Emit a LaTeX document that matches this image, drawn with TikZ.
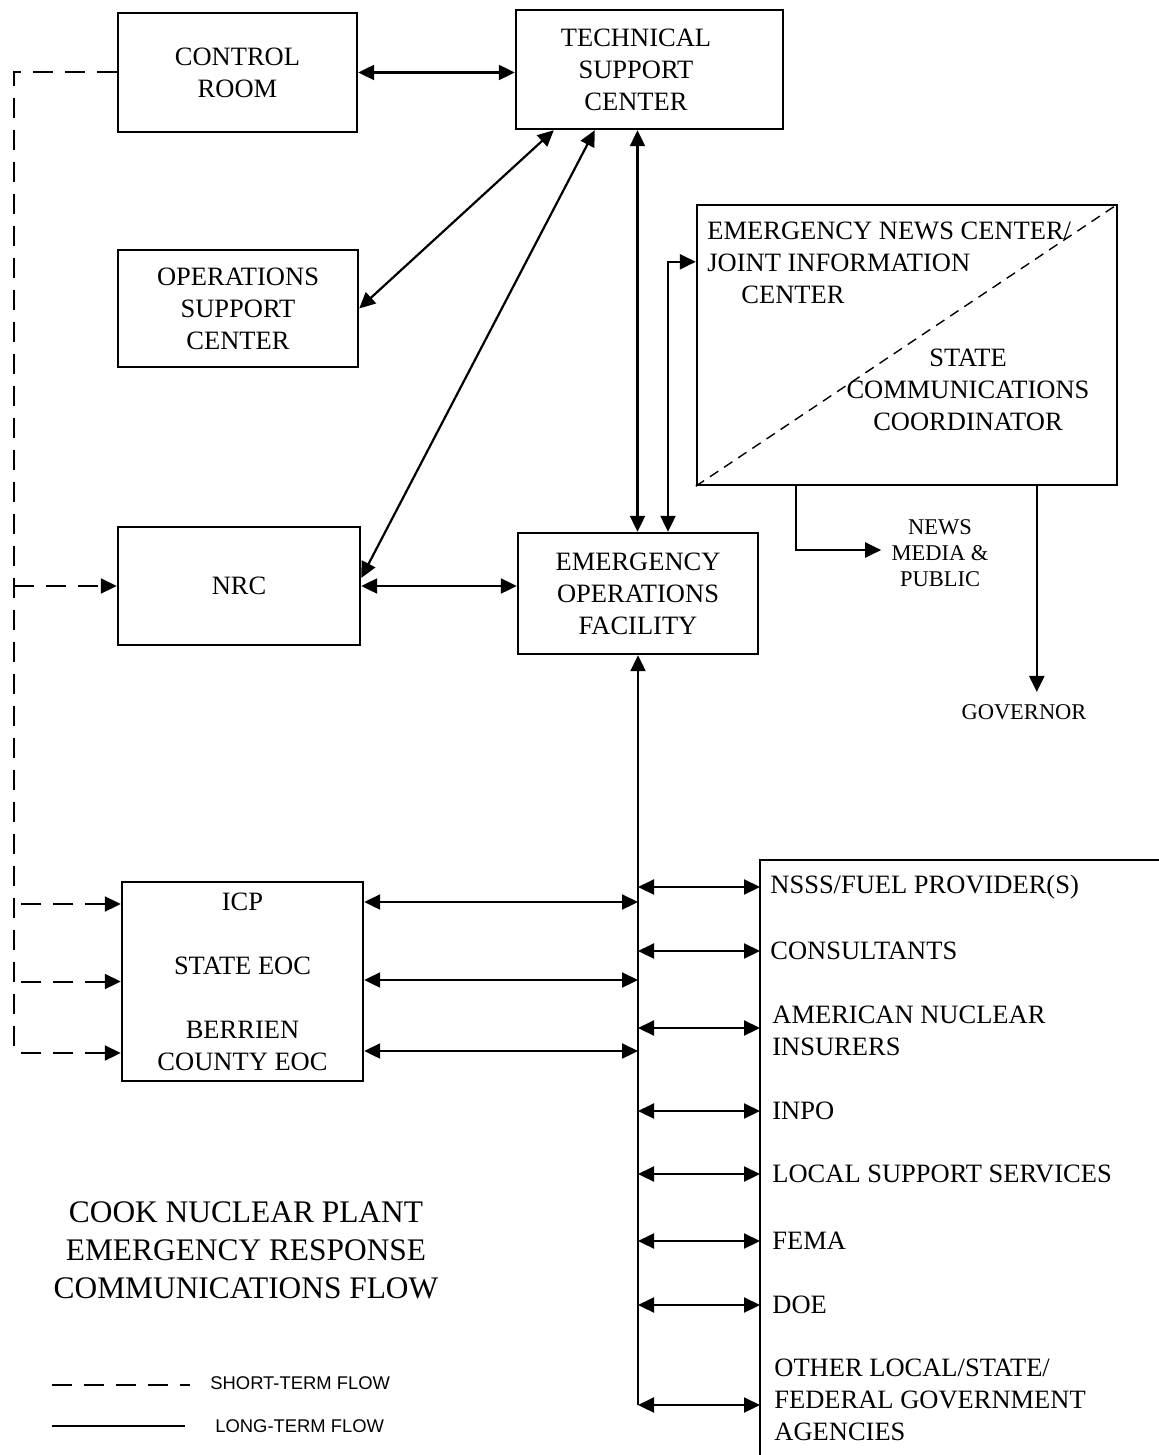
\documentclass[tikz,border=0pt]{standalone}
\usepackage{fontspec}
\setmainfont{Liberation Serif}
\setsansfont{Liberation Sans}
\usetikzlibrary{arrows.meta,positioning,calc}

\begin{document}
\begin{tikzpicture}[
  x=0.5pt, y=-0.5pt,
  >={Triangle[length=8pt,width=7.5pt]},
  font=\fontsize{13.25}{16}\selectfont,
  box/.style={draw, line width=1.2pt, align=center, inner sep=2pt},
  flow/.style={<->, line width=1.1pt},
  short/.style={line width=1pt, dash pattern=on 10pt off 6pt},
  item/.style={anchor=west, align=left, inner sep=2pt},
  small/.style={font=\fontsize{11.25}{13}\selectfont, align=center, inner sep=2pt},
  legend/.style={anchor=west, inner sep=2pt, font=\sffamily\fontsize{9.2}{11}\selectfont}
]
\useasboundingbox (0,0) rectangle (1158,1455);

\node[box, minimum width=119.5pt, minimum height=59.5pt] (cr) at (237.5,72.5) {CONTROL\\ROOM};
\node[box, minimum width=133.5pt, minimum height=59.5pt] (tsc) at (649.5,69.5) {};
\node[align=center, inner sep=2pt] (tsclbl) at (636,69.5) {TECHNICAL\\SUPPORT\\CENTER};
\node[box, minimum width=120pt, minimum height=58.5pt] (osc) at (238,308.5) {OPERATIONS\\SUPPORT\\CENTER};
\node[box, minimum width=121pt, minimum height=59pt] (nrc) at (239,586) {NRC};
\node[box, minimum width=120pt, minimum height=60.5pt] (eof) at (638,593.5) {EMERGENCY\\OPERATIONS\\FACILITY};
\node[box, minimum width=210pt, minimum height=140pt] (enc) at (907,345) {};
\node[box, minimum width=120.5pt, minimum height=99.5pt] (icp) at (242.5,981.5) {ICP\\[16pt]STATE EOC\\[16pt]BERRIEN\\COUNTY EOC};

\draw[line width=0.7pt, dash pattern=on 5pt off 3.5pt] (enc.south west) -- (enc.north east);
\node[anchor=west, align=left, inner sep=2pt] (jic) at (703,263) {EMERGENCY NEWS CENTER/\\JOINT INFORMATION\\\hspace*{17pt}CENTER};
\node[align=center, inner sep=2pt] (scc) at (968,390) {STATE\\COMMUNICATIONS\\COORDINATOR};

\node[small] (news) at (940,553) {NEWS\\MEDIA \&\\PUBLIC};
\node[small] (gov) at (1024,712) {GOVERNOR};

\node[align=center, font=\fontsize{15.7}{19}\selectfont] (title) at (246,1250) {COOK NUCLEAR PLANT\\EMERGENCY RESPONSE\\COMMUNICATIONS FLOW};

\coordinate (bus) at (638,1405);
\coordinate (lb) at (760,860);
\coordinate (dlow) at (14,1053);

\node[item] (nsss) at (766,887) {NSSS/FUEL PROVIDER(S)};
\node[item] (cons) at (766,951) {CONSULTANTS};
\node[item] (ani) at (768,1031) {AMERICAN NUCLEAR\\INSURERS};
\node[item] (inpo) at (768,1111) {INPO};
\node[item] (lss) at (768,1174) {LOCAL SUPPORT SERVICES};
\node[item] (fema) at (768,1241) {FEMA};
\node[item] (doe) at (768,1305) {DOE};
\node[item] (other) at (770,1400) {OTHER LOCAL/STATE/\\FEDERAL GOVERNMENT\\AGENCIES};

\draw[line width=1.2pt] (1160,860) -- (lb) -- (760,1460);

\draw[flow] (cr.east) -- (cr.east -| tsc.west);
\draw[flow] ([xshift=19.5pt]tsc.south west) -- (osc.east);
\draw[flow] ([xshift=40pt]tsc.south west) -- ([yshift=4pt]nrc.east);
\draw[flow] ([xshift=-6pt]tsc.south) -- ([xshift=-6pt]tsc.south |- eof.north);
\draw[flow] ([xshift=15pt]eof.north) |- ([yshift=-29pt]enc.north west);
\draw[flow] (nrc.east) -- (nrc.east -| eof.west);
\draw[->, line width=1.1pt] ([xshift=50pt]enc.south west) |- ([yshift=1.5pt,xshift=-3pt]news.west);
\draw[->, line width=1.1pt] ([xshift=170.5pt]enc.south west) -- ([xshift=170.5pt,yshift=4pt]enc.south west |- gov.north);

\draw[<-, line width=1.1pt] (eof.south) -- (eof.south |- bus);
\draw[flow] ([yshift=39.75pt]icp.east) -- ([yshift=39.75pt]icp.east -| bus);
\draw[flow] ([yshift=0.75pt]icp.east) -- ([yshift=0.75pt]icp.east -| bus);
\draw[flow] ([yshift=-34.75pt]icp.east) -- ([yshift=-34.75pt]icp.east -| bus);

\draw[flow] (bus |- nsss.west) -- (lb |- nsss.west);
\draw[flow] (bus |- cons.west) -- (lb |- cons.west);
\draw[flow] ([yshift=1.5pt]bus |- ani.west) -- ([yshift=1.5pt]lb |- ani.west);
\draw[flow] (bus |- inpo.west) -- (lb |- inpo.west);
\draw[flow] (bus |- lss.west) -- (lb |- lss.west);
\draw[flow] (bus |- fema.west) -- (lb |- fema.west);
\draw[flow] (bus |- doe.west) -- (lb |- doe.west);
\draw[flow] (bus) -- (lb |- bus);

\draw[short] (cr.west) -| (dlow);
\draw[short, ->] (dlow |- nrc.west) -- (nrc.west);
\draw[short, <-] ([yshift=38.75pt]icp.west) -- ++(-54pt,0);
\draw[short, <-] (icp.west) -- ++(-54pt,0);
\draw[short, <-] ([yshift=-35.75pt]icp.west) -- ++(-54pt,0);

\coordinate (sleg) at (52,1385);
\coordinate (lleg) at (52,1426);
\draw[short] (sleg) -- ++(69pt,0);
\draw[line width=1pt] (lleg) -- ++(66.5pt,0);
\node[legend] (stxt) at (206,1383) {SHORT-TERM FLOW};
\node[legend] (ltxt) at (211,1426) {LONG-TERM FLOW};
\end{tikzpicture}
\end{document}
